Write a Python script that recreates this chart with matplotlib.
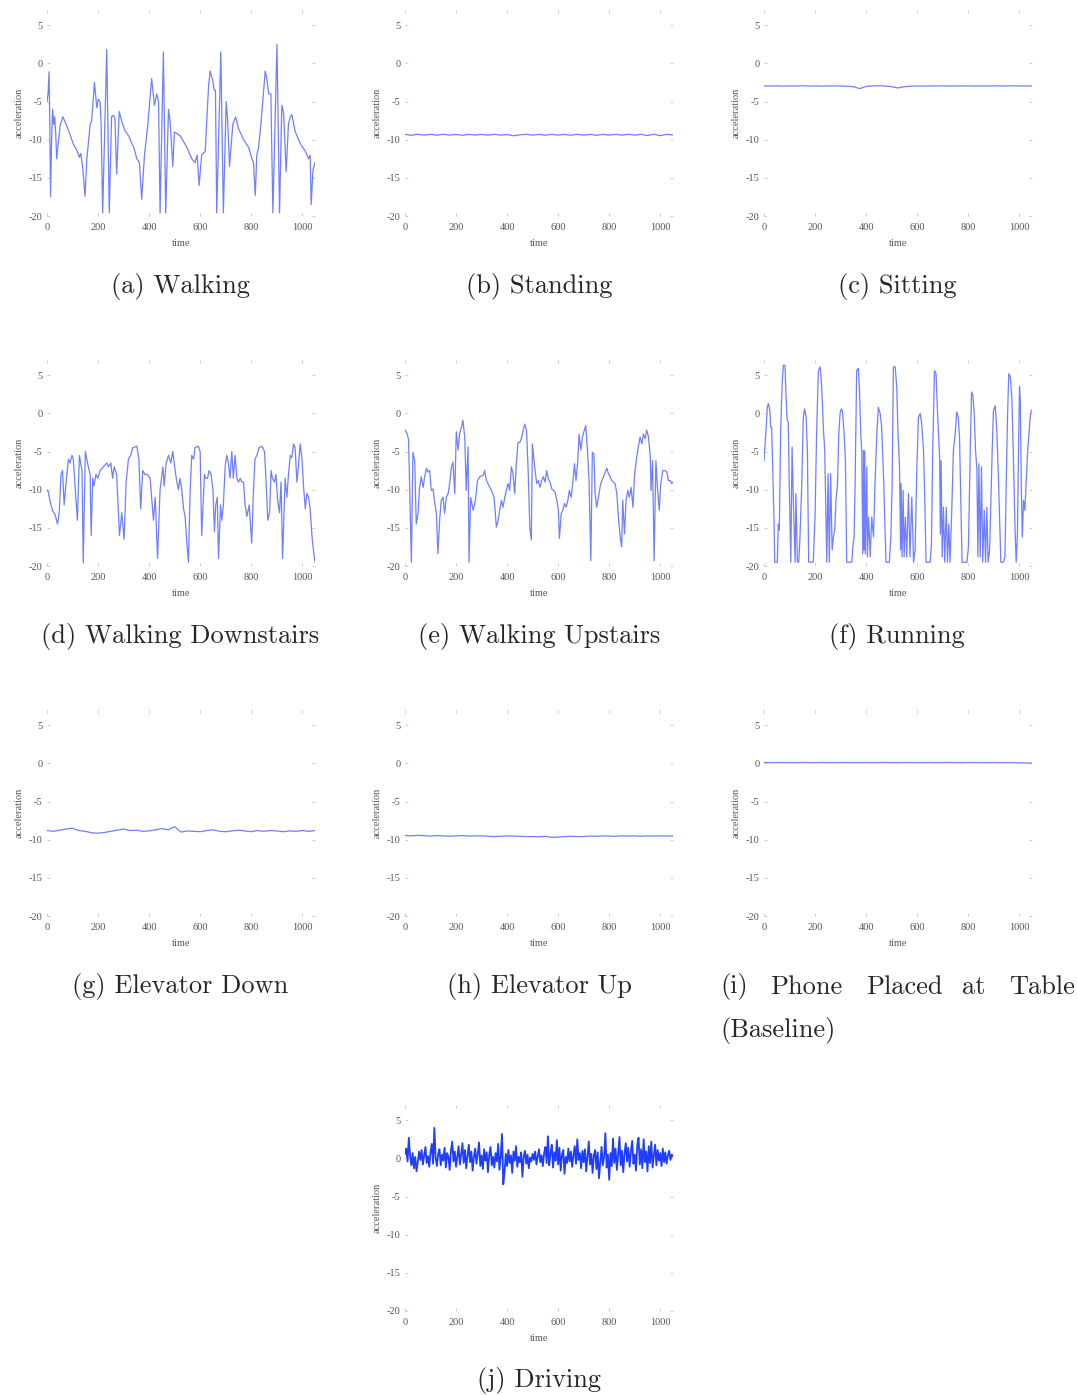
import numpy as np
import matplotlib
matplotlib.use("Agg")
import matplotlib.pyplot as plt

plt.rcParams['font.family'] = ['Liberation Serif', 'DejaVu Serif']
plt.rcParams['axes.unicode_minus'] = False

# ---- data (time, acceleration) ----
walk_t = [0, 4, 8, 11, 14, 18, 22, 26, 30, 34, 38, 44, 52, 62, 75, 90, 103, 116, 127, 132,
          140, 149, 156, 162, 169, 175, 186, 195, 201, 208, 212, 218, 234, 244, 253, 260, 266,
          273, 283, 292, 305, 320, 332, 340, 352, 362, 371, 382, 395, 410, 421, 430, 437, 443,
          456, 465, 476, 482, 493, 499, 510, 522, 548, 567, 580, 588, 596, 606, 620, 633, 639,
          648, 655, 660, 665, 681, 691, 702, 708, 715, 728, 739, 750, 770, 790, 803, 809, 816,
          822, 829, 838, 855, 861, 869, 877, 885, 901, 911, 920, 927, 937, 946, 953, 959, 973,
          992, 1012, 1025, 1031, 1035, 1042, 1050]
walk_y = [-5.0, -4.0, -1.1, -8, -17.5, -10, -6.0, -8.0, -7.0, -9, -12.5, -10.5, -8, -7.0, -8,
          -9.3, -10.6, -11.3, -12.3, -11.8, -13.7, -17.4, -12.5, -10.5, -8.0, -7.5, -2.5, -5.8,
          -4.7, -5.0, -8, -19.6, 1.8, -19.6, -7.0, -6.8, -7.2, -14.5, -6.3, -7.5, -8.8, -9.5,
          -10.5, -11, -12.5, -13.0, -17.8, -12, -8, -2.0, -5.5, -4.0, -5.0, -19.6, 1.5, -19.6,
          -6.0, -7.5, -13.5, -9.0, -9.2, -9.5, -11, -12.5, -13, -12, -16, -12, -11.5, -3, -1,
          -2, -3.5, -3.5, -19.6, 1.5, -19.6, -5, -7.5, -13.5, -8, -7, -8.5, -10, -11, -12.5,
          -13, -17.3, -12, -11, -8, -1, -2, -4, -4, -19.6, 2.5, -19.6, -5.5, -6.5, -14.2, -8,
          -7, -6.7, -9, -10.5, -11.5, -12.5, -12, -18.5, -14, -13]

down_t = [0, 5, 12, 22, 31, 41, 48, 55, 61, 67, 75, 84, 90, 98, 103, 119, 127, 132, 137, 142,
          150, 156, 162, 169, 173, 179, 184, 192, 199, 208, 221, 234, 241, 250, 257, 263, 273,
          284, 293, 302, 310, 319, 328, 336, 352, 360, 367, 375, 384, 393, 404, 417, 424, 433,
          443, 454, 459, 467, 476, 485, 493, 502, 509, 515, 521, 528, 535, 541, 548, 554, 561,
          567, 574, 580, 593, 600, 606, 617, 622, 629, 635, 643, 650, 656, 661, 667, 672, 680,
          685, 691, 698, 704, 711, 717, 724, 730, 737, 744, 750, 757, 763, 770, 776, 783, 792,
          802, 809, 815, 822, 831, 842, 852, 857, 865, 872, 878, 883, 891, 897, 904, 911, 917,
          923, 933, 940, 946, 953, 959, 966, 972, 979, 985, 992, 999, 1005, 1012, 1018, 1025,
          1031, 1038, 1044, 1050]
down_y = [-10, -10.3, -11.5, -12.8, -13.2, -14.5, -13, -8, -7.5, -12, -9, -6, -6.5, -5.5, -6,
          -14, -5.5, -6.5, -7.5, -19.6, -5, -6, -7, -8, -16, -8.5, -9.5, -8, -8.5, -7.5, -7,
          -6.5, -7, -6.5, -8.5, -7, -8, -16, -13, -16.5, -9, -6, -5.5, -4.5, -4.3, -6, -12.5,
          -7.5, -8, -8, -8.5, -14, -11, -19, -10, -7, -9.5, -6.5, -5.5, -6.5, -5, -7.5, -9,
          -10, -8.5, -10, -12.5, -13.5, -17, -19.5, -10, -5.5, -6, -4.5, -4.3, -5, -16, -8,
          -8.5, -8.5, -7.5, -8, -10, -15.5, -12, -11, -19, -12, -14, -12, -7, -5.5, -6.5,
          -8.5, -5, -8.5, -5.5, -8.5, -9, -8.5, -9, -9, -12, -13.5, -12, -17, -10, -6, -5.5,
          -4.5, -4.3, -5, -8, -14, -13, -7.5, -8.5, -9, -8, -11.5, -13, -9, -19, -8.5, -11, -8,
          -5.5, -5.8, -4, -4.5, -9, -7, -4, -6, -9.5, -12.5, -10.5, -11, -12.5, -16, -18, -19.5]

up_t = [1, 9, 14, 18, 25, 31, 38, 44, 51, 57, 64, 71, 77, 84, 90, 97, 103, 110, 116, 123, 129,
        136, 142, 149, 155, 162, 169, 175, 182, 188, 195, 201, 208, 214, 221, 227, 234, 240,
        247, 251, 257, 267, 276, 284, 293, 306, 312, 319, 328, 339, 349, 358, 365, 371, 378,
        384, 391, 397, 404, 410, 417, 423, 430, 436, 443, 450, 456, 463, 469, 476, 482, 489,
        495, 499, 508, 516, 523, 529, 536, 542, 549, 555, 562, 568, 575, 582, 588, 595, 601,
        605, 612, 618, 625, 631, 638, 644, 651, 657, 664, 670, 677, 682, 689, 695, 703, 708,
        715, 721, 728, 734, 740, 745, 751, 758, 764, 771, 778, 784, 791, 797, 804, 810, 823,
        830, 836, 843, 849, 853, 860, 866, 873, 879, 886, 893, 899, 906, 912, 921, 928, 934,
        941, 947, 954, 961, 964, 970, 976, 983, 989, 996, 1002, 1010, 1019, 1026, 1032, 1039,
        1045, 1050]
up_y = [-2.2, -2.7, -3.5, -9.2, -19.5, -5.1, -6.2, -14.5, -13.1, -9.7, -8.3, -9.7, -8.3, -7.2,
        -7.7, -7.5, -10.1, -9.9, -11.6, -13.1, -18.4, -13.8, -11.4, -11, -13.1, -11, -10.5,
        -9.2, -7, -6.4, -10.5, -2.4, -4.8, -2.7, -1.8, -0.9, -3.1, -10.1, -4.4, -19.5, -11,
        -12.7, -11.4, -8.8, -8.3, -8.1, -7.5, -8.8, -9.4, -10.1, -11, -14.9, -14, -12.7,
        -11.4, -12.3, -11, -10.1, -9.2, -10.1, -7, -7.9, -10.5, -6.6, -3.8, -3.8, -3.3, -2.2,
        -1.4, -2.2, -7, -14.9, -16.6, -4, -7, -9.2, -8.8, -9.7, -8.8, -8.3, -9, -7.5, -8.6,
        -9, -9.9, -10.1, -10.3, -11.4, -12.7, -16.4, -13.1, -12.7, -11.8, -12.3, -11.4,
        -10.1, -11, -9.2, -6.6, -8.8, -6.2, -2.7, -4.8, -3.1, -2.2, -1.6, -4.8, -8.8, -19.3,
        -5.1, -5.3, -10.5, -12.3, -11, -9.7, -8.8, -8.3, -7.7, -7.2, -7.9, -8.3, -8.8, -9.2,
        -10.5, -13.6, -16.2, -17.5, -11.4, -15.8, -11.4, -10.1, -11, -9.7, -12.3, -8.3, -6.2,
        -4.8, -3.1, -4, -2.7, -3.3, -2.2, -3.1, -5.7, -10.1, -6.2, -19.3, -6.2, -9.7, -12.7,
        -9.2, -7.5, -7.5, -7.7, -8.8, -8.8, -9.2, -9]

run_t = [0, 7, 13, 17, 23, 26, 30, 34, 39, 42, 52, 56, 60, 65, 71, 76, 82, 86, 91, 95, 99, 105,
         110, 115, 122, 125, 131, 136, 141, 148, 154, 159, 165, 170, 175, 193, 200, 206, 213,
         220, 226, 233, 238, 242, 246, 251, 256, 261, 267, 272, 277, 282, 288, 293, 298, 303,
         308, 314, 319, 324, 344, 348, 353, 357, 363, 370, 374, 379, 383, 387, 390, 392, 395,
         397, 403, 405, 410, 416, 422, 429, 435, 442, 448, 455, 461, 468, 473, 478, 491, 497,
         502, 507, 514, 520, 525, 531, 535, 537, 541, 545, 549, 554, 559, 566, 572, 579, 586,
         592, 599, 605, 612, 618, 625, 630, 635, 651, 656, 661, 668, 674, 680, 684, 688, 691,
         694, 698, 703, 708, 714, 719, 724, 729, 736, 742, 749, 755, 761, 766, 771, 776, 795,
         801, 808, 813, 818, 823, 829, 834, 838, 842, 847, 852, 857, 863, 868, 873, 878, 884,
         889, 894, 899, 906, 912, 918, 923, 928, 938, 944, 949, 954, 959, 965, 971, 978, 983,
         988, 993, 997, 1001, 1004, 1008, 1012, 1017, 1022, 1027, 1033, 1038, 1043, 1047]
run_y = [-6.2, -2.7, 0.8, 1.3, 0.4, -1.8, -1.8, -7.0, -13.6, -19.5, -19.5, -14.5, -15.3, -2.7,
         3.9, 6.3, 6.3, 2.6, -0.9, -1.1, -9.2, -19.5, -4.4, -11.4, -19.5, -10.5, -19.5, -19.5,
         -16.2, -9.2, -0.5, 0.6, -0.5, -4.9, -19.5, -19.5, -13.6, -2.7, 5.6, 6.1, 3.5, -2.2,
         -4.9, -12.3, -19.5, -7.9, -19.5, -7.9, -17.9, -16.2, -15.3, -11.4, -9.2, -2.7, 0.0,
         0.6, 0.2, -2.7, -6.2, -19.5, -19.5, -17.5, -16.2, -9.2, 5.6, 5.9, 3.0, -2.7, -4.9,
         -18.4, -4.9, -17.9, -4.9, -18.4, -7.0, -18.8, -13.6, -18.8, -13.6, -16.2, -9.2, -2.7,
         0.8, 0.0, -1.8, -7.9, -13.6, -19.5, -19.5, -16.2, -9.2, 6.1, 6.1, 3.5, -2.7, -7.0,
         -17.9, -9.2, -18.8, -10.1, -18.8, -13.6, -18.8, -10.5, -18.8, -11.0, -19.5, -17.9,
         -7.0, -0.5, 0.0, -1.4, -4.9, -11.4, -19.5, -19.5, -17.1, -4.9, 5.6, 5.2, 0.0, -2.7,
         -5.7, -15.8, -6.2, -18.8, -12.3, -19.5, -12.3, -19.5, -14.5, -19.5, -12.3, -4.9,
         -2.7, 0.2, -0.5, -3.1, -11.4, -19.5, -19.5, -17.5, -4.9, 2.8, 2.4, 0.4, -4.9, -7.3,
         -18.8, -6.6, -18.8, -7.0, -19.5, -12.7, -19.5, -12.3, -19.5, -17.9, -11.4, -4.9, 0.4,
         1.0, -2.2, -7.9, -13.6, -19.5, -19.5, -18.8, -9.2, -0.5, 5.2, 4.8, 2.1, -7.0, -14.5,
         -19.5, -15.8, -4.9, 3.5, 1.7, -9.2, -16.2, -11.4, -12.7, -9.2, -4.9, -2.7, -0.5, 0.4]

# near-flat recordings, sampled every 25 time units
flat_t = np.arange(0, 1051, 25)
stand_y = [-9.30, -9.42, -9.28, -9.40, -9.30, -9.41, -9.29, -9.40, -9.31, -9.42, -9.30, -9.39,
           -9.31, -9.41, -9.30, -9.40, -9.33, -9.48, -9.36, -9.30, -9.40, -9.31, -9.41, -9.30,
           -9.40, -9.31, -9.41, -9.29, -9.40, -9.30, -9.42, -9.31, -9.40, -9.30, -9.41, -9.29,
           -9.40, -9.30, -9.46, -9.28, -9.47, -9.30, -9.38]
sit_y = [-2.95, -2.97, -2.94, -2.98, -2.95, -2.96, -2.93, -2.97, -2.95, -2.98, -2.96, -2.94,
         -2.97, -3.00, -3.05, -3.30, -3.02, -2.95, -2.93, -2.96, -3.05, -3.22, -3.05, -2.98,
         -2.96, -2.97, -2.95, -2.96, -2.94, -2.97, -2.95, -2.96, -2.94, -2.97, -2.95, -2.96,
         -2.94, -2.95, -2.96, -2.94, -2.95, -2.96, -2.95]
elev_down_y = [-8.8, -8.9, -8.75, -8.6, -8.5, -8.8, -8.9, -9.1, -9.15, -9.05, -8.9, -8.75,
               -8.6, -8.8, -8.75, -8.9, -8.85, -8.7, -8.55, -8.7, -8.3, -9.0, -8.85, -8.9,
               -8.95, -8.8, -8.7, -8.9, -8.95, -8.85, -8.75, -8.85, -8.95, -8.8, -8.9, -8.8,
               -8.85, -8.95, -8.85, -8.9, -8.8, -8.9, -8.8]
elev_up_y = [-9.45, -9.5, -9.42, -9.48, -9.52, -9.46, -9.5, -9.55, -9.5, -9.47, -9.52, -9.5,
             -9.48, -9.55, -9.6, -9.55, -9.5, -9.52, -9.55, -9.6, -9.58, -9.62, -9.55, -9.7,
             -9.65, -9.6, -9.55, -9.6, -9.58, -9.52, -9.55, -9.5, -9.52, -9.55, -9.5, -9.52,
             -9.5, -9.55, -9.5, -9.52, -9.5, -9.52, -9.5]
table_y = [0.12, 0.10, 0.11, 0.12, 0.10, 0.11, 0.12, 0.11, 0.10, 0.12, 0.11, 0.10, 0.11, 0.12,
           0.10, 0.11, 0.12, 0.10, 0.11, 0.12, 0.11, 0.10, 0.12, 0.11, 0.10, 0.11, 0.12, 0.10,
           0.11, 0.12, 0.11, 0.10, 0.12, 0.11, 0.10, 0.11, 0.12, 0.10, 0.11, 0.10, 0.08, 0.06,
           0.02]

# driving, sampled every 5 time units
drive_y = [0.6, 1.3, -0.4, 2.7, 0.3, -0.9, 0.7, -1.3, 0.2, -1.7,
           -0.5, 0.9, -0.2, 1.1, -0.8, 0.4, 1.5, -0.6, 0.3, -1.1,
           0.8, 1.9, -0.7, 4.0, 0.1, -1.0, 0.6, 1.2, -0.9, 0.5,
           -0.3, 1.4, -1.2, 0.7, 0.2, -1.5, 1.0, 2.2, -0.4, 0.9,
           -1.1, 0.3, 1.6, -0.8, 0.5, 2.0, -0.6, 1.1, -1.3, 0.4,
           1.8, -0.5, 0.9, -1.6, 0.2, 1.3, -0.7, 0.6, 2.1, -1.0,
           0.4, -1.4, 1.2, -0.3, 0.8, -1.8, 0.5, 1.5, -0.9, 0.2,
           -1.2, 0.7, -0.4, 1.9, -1.5, 0.3, 3.2, -3.4, -1.8, 0.6,
           -1.0, 1.1, -0.6, 0.4, -1.9, 0.9, -0.3, 1.6, -1.1, 0.2,
           -0.5, 0.8, -2.4, 0.3, 1.0, -0.7, 0.5, -1.3, 0.1, -0.4,
           0.6, -0.2, 0.9, -0.8, 0.3, 1.2, -0.5, 0.4, -1.0, 0.7,
           1.5, -0.6, 2.9, -0.9, 0.6, 1.8, -1.2, 0.8, -0.3, 2.4,
           -0.8, 1.4, -1.6, 0.5, 1.1, -2.0, 0.2, -0.6, 1.3, -0.4,
           0.9, -1.1, 0.4, 1.6, -0.7, 2.5, -0.2, 0.7, -1.3, 1.0,
           -0.5, 1.2, -1.7, 0.3, 2.2, -0.8, 0.6, -1.9, 0.4, 1.1,
           -1.4, 0.8, -2.6, -0.5, 1.5, -0.9, 0.2, 3.3, -1.2, 0.5,
           -2.8, 0.7, -1.0, 2.6, -0.6, 1.3, -1.5, 0.4, 2.8, -0.9,
           1.0, -1.8, 0.6, 2.0, -0.4, 1.4, -1.1, 0.8, 2.3, -0.7,
           0.5, -1.6, 1.7, 2.7, -0.8, 1.2, -1.3, 2.5, -0.5, 0.9,
           -1.7, 1.6, -0.6, 2.2, -1.2, 0.4, 1.8, -0.9, 1.1, -0.3,
           0.7, -1.0, 1.3, -0.5, 0.8, -0.7, 0.4, 1.0, -0.2, 0.5, 0.3]
drive_t = np.arange(len(drive_y)) * 5

W, H = 1077, 1395
fig = plt.figure(figsize=(W / 100, H / 100), dpi=100)

LINE = '#6f7fff'
TXT = '#262626'


def panel(left_px, bottom_px, t, y, color=LINE, lw=0.9):
    ax = fig.add_axes([left_px / W, 1 - bottom_px / H, 268 / W, 206 / H])
    ax.plot(t, y, color=color, lw=lw)
    ax.set_xlim(0, 1050)
    ax.set_ylim(-20, 7)
    ax.set_xticks([0, 200, 400, 600, 800, 1000])
    ax.set_yticks([-20, -15, -10, -5, 0, 5])
    for s in ax.spines.values():
        s.set_visible(False)
    ax.tick_params(direction='in', length=2.5, width=0.6, color='#c4c4c4',
                   top=True, right=True, labelsize=7.5, labelcolor='#555555')
    ax.tick_params(axis='x', pad=5)
    ax.tick_params(axis='y', pad=3)
    ax.set_xlabel('time', fontsize=7.5, color='#555555', labelpad=5)
    ax.set_ylabel('acceleration', fontsize=7.5, color='#555555', labelpad=4)
    return ax


def caption(x_px, y_px, s, ha='center'):
    fig.text(x_px / W, 1 - y_px / H, s, ha=ha, va='center', fontsize=19,
             family='cmr10', color=TXT)


cols = [47, 405, 764]
rows = [216, 566, 916]

panel(cols[0], rows[0], walk_t, walk_y)
panel(cols[1], rows[0], flat_t, stand_y)
panel(cols[2], rows[0], flat_t, sit_y)
panel(cols[0], rows[1], down_t, down_y)
panel(cols[1], rows[1], up_t, up_y)
panel(cols[2], rows[1], run_t, run_y)
panel(cols[0], rows[2], flat_t, elev_down_y)
panel(cols[1], rows[2], flat_t, elev_up_y)
panel(cols[2], rows[2], flat_t, table_y)
panel(cols[1], 1311, drive_t, drive_y, color='#1f3dff', lw=1.3)

caption(180, 286, '(a) Walking')
caption(539, 286, '(b) Standing')
caption(897, 286, '(c) Sitting')
caption(180, 636, '(d) Walking Downstairs')
caption(539, 636, '(e) Walking Upstairs')
caption(897, 636, '(f) Running')
caption(180, 987, '(g) Elevator Down')
caption(539, 987, '(h) Elevator Up')
# justified two-line caption
for x, word in zip([720, 770, 866, 962], ['(i)', 'Phone', 'Placed', 'at']):
    caption(x, 987, word, ha='left')
caption(1075, 987, 'Table', ha='right')
caption(720, 1030, '(Baseline)', ha='left')
caption(539, 1381, '(j) Driving')

fig.savefig('out.png', dpi=100, facecolor='white')
